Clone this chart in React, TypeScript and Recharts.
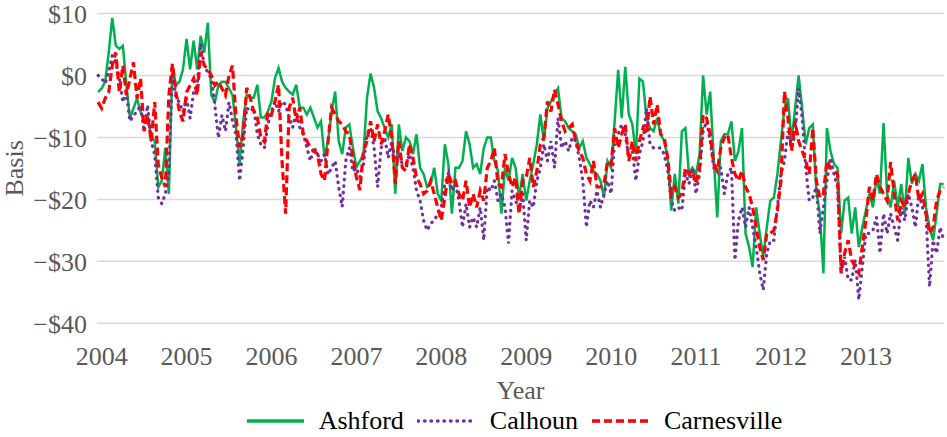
import { LineChart, Line, XAxis, YAxis, CartesianGrid, Legend } from 'recharts';

// half-monthly readings, first point late Dec 2003
const START = 2003.958;
const STEP = 1 / 24;

const ashford = [
  -2.7, -2.1, -1.0, 3.7, 9.3, 4.8, 4.3, 4.8, -1.6, -6.9, -5.3, -3.7,
  -5.9, -7.4, -6.9, -9.6, -10.6, -18.0, -17.0, -11.7, -19.1, 1.6, -1.6, -1.0,
  1.0, 5.9, 1.0, 5.6, 1.0, 6.4, 3.7, 8.5, -3.2, -4.3, -1.6, -1.0,
  -1.0, -2.1, -3.2, -8.5, -14.3, -7.4, -3.1, -3.6, -3.6, -1.5, -6.8, -6.8,
  -5.8, -4.2, -0.4, 1.2, -1.0, -2.0, -2.6, -3.1, -1.5, -5.2, -5.2, -6.3,
  -5.2, -6.8, -8.4, -7.4, -13.2, -10.6, -5.8, -2.6, -10.6, -12.7, -8.4, -7.9,
  -11.6, -14.8, -13.8, -12.7, -3.6, 0.3, -2.0, -5.8, -6.9, -8.5, -10.0, -7.9,
  -19.1, -7.9, -12.2, -10.0, -10.6, -12.7, -9.5, -14.9, -15.9, -18.0, -17.5, -14.9,
  -19.1, -20.2, -11.1, -14.3, -22.3, -14.9, -14.9, -13.8, -9.0, -11.1, -14.9, -14.3,
  -15.9, -11.7, -10.0, -10.0, -13.8, -15.4, -22.3, -14.9, -17.0, -13.3, -14.9, -19.7,
  -15.9, -20.2, -17.0, -14.3, -11.1, -6.3, -10.6, -5.3, -4.2, -3.1, -2.1, -6.9,
  -7.4, -8.5, -9.0, -9.5, -11.7, -10.6, -13.3, -14.3, -15.4, -15.9, -17.0, -19.7,
  -13.8, -14.9, -7.4, 0.9, -6.9, 1.4, -6.3, -7.9, -12.7, -0.5, -1.0, -6.9,
  -8.5, -9.0, -6.9, -9.5, -10.6, -13.3, -21.8, -15.9, -20.7, -9.0, -8.5, -15.9,
  -14.9, -15.9, -12.7, 0.0, -6.3, -2.6, -13.3, -22.9, -10.6, -9.5, -9.5, -7.4,
  -13.8, -12.2, -8.5, -25.5, -27.7, -30.9, -21.3, -25.5, -29.3, -24.5, -20.2, -19.7,
  -15.9, -10.6, -5.3, -3.7, -10.6, -5.3, 0.0, -5.3, -11.1, -8.5, -7.9, -18.6,
  -22.3, -31.9, -8.5, -12.2, -14.3, -14.9, -25.5, -20.2, -19.7, -25.5, -21.3, -27.7,
  -24.5, -21.8, -19.1, -21.3, -16.5, -19.1, -7.7, -19.1, -21.3, -17.0, -21.3, -17.5,
  -22.3, -13.3, -17.5, -15.9, -17.0, -14.3, -21.3, -24.5, -26.6, -22.3, -17.5, -17.5,
];

const calhoun = [
  0.0, -0.5, -1.3, 0.5, 3.2, 2.1, -0.5, -4.3, -2.7, -7.4, -6.4, -5.9,
  -4.8, -9.0, -4.8, -10.6, -12.8, -19.7, -20.7, -19.1, -16.0, 1.0, -3.7, -4.3,
  -5.9, -3.7, -6.9, -2.7, -1.6, 5.1, 1.6, 0.5, -0.5, -4.8, -10.1, -6.4,
  -9.0, -4.3, -7.4, -9.6, -17.0, -11.6, -5.2, -5.8, -5.2, -9.5, -11.1, -11.7,
  -7.9, -5.8, -4.2, -5.8, -4.2, -4.7, -6.8, -8.4, -5.8, -8.4, -9.5, -11.6,
  -13.8, -11.6, -12.7, -13.8, -12.7, -16.0, -14.9, -13.8, -18.0, -21.2, -13.8, -11.7,
  -15.5, -14.9, -16.4, -14.3, -9.5, -8.5, -11.7, -18.0, -11.7, -10.0, -13.3, -10.6,
  -13.8, -12.7, -14.3, -14.3, -12.7, -14.9, -18.6, -20.2, -23.4, -25.0, -23.9, -23.4,
  -22.3, -21.3, -17.5, -15.9, -18.6, -17.5, -20.2, -24.5, -20.7, -24.5, -22.9, -24.5,
  -21.3, -26.6, -18.0, -18.6, -17.0, -20.2, -19.1, -21.3, -27.1, -18.6, -20.2, -21.8,
  -19.1, -26.6, -20.2, -21.3, -17.0, -14.9, -11.1, -13.8, -10.6, -14.9, -6.9, -11.7,
  -10.6, -12.2, -10.0, -10.6, -13.3, -17.0, -24.5, -20.2, -21.3, -18.6, -21.3, -19.1,
  -17.0, -19.1, -10.6, -9.5, -7.9, -9.5, -13.3, -12.2, -17.0, -12.7, -10.6, -5.3,
  -11.1, -11.7, -11.7, -11.7, -12.7, -15.4, -20.2, -21.8, -21.3, -21.8, -15.9, -17.5,
  -14.9, -19.1, -15.9, -9.0, -7.4, -10.6, -14.9, -14.9, -14.9, -19.1, -15.9, -14.9,
  -29.8, -23.4, -21.3, -24.5, -21.3, -24.5, -27.7, -31.9, -34.6, -28.7, -26.6, -26.6,
  -21.3, -15.9, -13.8, -9.0, -11.7, -9.5, -2.1, -6.9, -14.9, -20.2, -19.7, -18.0,
  -25.5, -21.3, -17.0, -13.3, -15.9, -18.0, -31.4, -29.3, -33.0, -33.0, -29.8, -36.2,
  -30.9, -25.5, -25.5, -25.0, -22.9, -28.7, -22.3, -25.5, -22.3, -24.5, -26.6, -21.3,
  -23.4, -19.1, -21.3, -24.5, -19.1, -21.3, -22.3, -34.1, -26.6, -28.7, -24.5, -26.6,
];

const carnesville = [
  -4.3, -5.3, -3.7, -2.7, 1.6, 3.7, -2.7, 1.6, -3.2, -0.5, 2.1, -3.7,
  -0.5, -9.0, -6.4, -10.6, -4.3, -14.4, -16.5, -18.0, -3.2, 1.9, -2.7, -5.9,
  -7.4, -2.7, -1.6, -0.5, -3.2, 3.7, 1.6, 1.0, 0.0, -1.6, -1.0, -2.1,
  -3.2, 0.0, 1.6, -6.9, -11.6, -9.5, -2.0, -3.6, -5.8, -6.8, -10.0, -10.7,
  -5.8, -6.3, -4.2, -1.5, -14.0, -22.3, -5.2, -3.6, -7.4, -5.2, -9.5, -10.6,
  -11.6, -12.2, -12.7, -15.9, -17.0, -10.6, -5.2, -6.3, -7.4, -7.9, -9.0, -9.5,
  -13.2, -16.4, -18.5, -12.2, -10.6, -7.4, -10.6, -7.9, -11.1, -9.0, -6.3, -10.0,
  -17.5, -10.6, -14.9, -15.4, -11.1, -13.3, -16.5, -17.5, -19.1, -18.6, -17.0, -19.1,
  -21.3, -23.4, -19.7, -15.9, -17.5, -17.0, -19.1, -20.2, -17.0, -21.3, -19.1, -21.3,
  -18.6, -20.2, -14.9, -13.8, -11.7, -17.5, -18.0, -12.7, -15.9, -18.0, -16.5, -22.3,
  -17.0, -16.5, -13.3, -18.0, -15.4, -11.1, -10.0, -4.2, -5.8, -2.3, -4.7, -7.4,
  -9.0, -8.5, -7.9, -10.6, -12.2, -13.3, -15.9, -17.0, -13.8, -18.0, -18.0, -17.5,
  -13.8, -14.3, -8.5, -11.7, -9.5, -7.9, -13.8, -10.6, -13.8, -10.6, -8.5, -9.5,
  -3.4, -7.9, -4.7, -9.5, -10.0, -13.3, -19.1, -18.0, -19.7, -19.1, -14.9, -15.9,
  -15.4, -17.5, -14.9, -6.3, -6.9, -9.5, -14.3, -15.4, -11.7, -10.0, -9.5, -13.3,
  -15.9, -17.0, -15.4, -18.0, -19.1, -21.3, -24.5, -27.7, -29.8, -25.5, -25.5, -25.0,
  -21.8, -17.0, -2.6, -6.9, -12.2, -7.4, -10.6, -12.2, -13.8, -15.9, -8.5, -17.0,
  -19.7, -19.1, -13.8, -14.9, -15.4, -15.9, -31.9, -28.7, -26.6, -29.8, -30.9, -31.9,
  -27.7, -23.4, -18.0, -20.2, -15.9, -18.0, -19.1, -20.2, -14.0, -19.1, -23.4, -20.2,
  -21.3, -19.1, -17.0, -15.9, -20.2, -19.1, -22.3, -25.5, -24.5, -20.2, -18.6, -18.0,
];

const yearTicks = [2004, 2005, 2006, 2007, 2008, 2009, 2010, 2011, 2012, 2013];
const basisTicks = [-40, -30, -20, -10, 0, 10];

const data = ashford.map((v, i) => ({
  t: START + i * STEP,
  ashford: v,
  calhoun: calhoun[i],
  carnesville: carnesville[i],
}));

const FONT = '"Liberation Serif", "Times New Roman", serif';
const GREY = '#595959';

const series = [
  { key: 'ashford', name: 'Ashford', color: '#00B050', dash: undefined, cap: 'butt', width: 2.5 },
  { key: 'calhoun', name: 'Calhoun', color: '#7030A0', dash: '0.5 6', cap: 'round', width: 3.2 },
  { key: 'carnesville', name: 'Carnesville', color: '#FF0000', dash: '8 4', cap: 'butt', width: 3.2 },
];

const fmtBasis = (v: number) => (v < 0 ? `\u2212$${-v}` : `$${v}`);

const LegendRow = () => (
  <div
    style={{
      display: 'flex',
      justifyContent: 'center',
      alignItems: 'center',
      height: 30,
      fontFamily: FONT,
      fontSize: 26,
      lineHeight: '30px',
      color: '#000',
    }}
  >
    {series.map((s) => (
      <div key={s.key} style={{ display: 'flex', alignItems: 'center', marginRight: 13 }}>
        <svg width={59} height={10} style={{ marginRight: 14 }}>
          <line
            x1={1}
            y1={5}
            x2={58}
            y2={5}
            stroke={s.color}
            strokeWidth={3.5}
            strokeDasharray={s.dash}
            strokeLinecap={s.cap as 'butt' | 'round'}
          />
        </svg>
        <span>{s.name}</span>
      </div>
    ))}
  </div>
);

export default function App() {
  return (
    <div style={{ position: 'absolute', left: 0, top: 0 }}>
      <LineChart
        width={947}
        height={437}
        data={data}
        margin={{ top: 13.5, right: 3, left: 0, bottom: 3.7 }}
        style={{ fontFamily: FONT }}
      >
        <CartesianGrid vertical={false} stroke="#d9d9d9" strokeWidth={1.5} />
        <XAxis
          type="number"
          dataKey="t"
          domain={[2003.945, 2013.92]}
          ticks={yearTicks}
          interval={0}
          tickFormatter={(v) => String(v)}
          axisLine={false}
          tickLine={false}
          tickSize={0}
          tickMargin={23}
          height={80}
          tick={{ fill: GREY, fontSize: 26, fontFamily: FONT }}
          label={{
            value: 'Year',
            position: 'insideBottom',
            offset: 4,
            fill: GREY,
            fontSize: 26,
            fontFamily: FONT,
          }}
        />
        <YAxis
          domain={[-40, 10]}
          ticks={basisTicks}
          interval={0}
          tickFormatter={fmtBasis}
          axisLine={false}
          tickLine={false}
          tickSize={0}
          tickMargin={10}
          width={97}
          tick={{ fill: GREY, fontSize: 26, fontFamily: FONT }}
          label={{
            value: 'Basis',
            angle: -90,
            position: 'insideLeft',
            offset: 13.5,
            style: { textAnchor: 'middle' },
            fill: GREY,
            fontSize: 26,
            fontFamily: FONT,
          }}
        />
        {series.map((s) => (
          <Line
            key={s.key}
            type="linear"
            dataKey={s.key}
            name={s.name}
            stroke={s.color}
            strokeWidth={s.width}
            strokeDasharray={s.dash}
            strokeLinecap={s.cap as 'butt' | 'round'}
            dot={false}
            activeDot={false}
            isAnimationActive={false}
          />
        ))}
        <Legend
          verticalAlign="bottom"
          content={() => <LegendRow />}
          wrapperStyle={{ left: 97, width: 847, top: 406, bottom: 'auto' }}
        />
      </LineChart>
    </div>
  );
}
